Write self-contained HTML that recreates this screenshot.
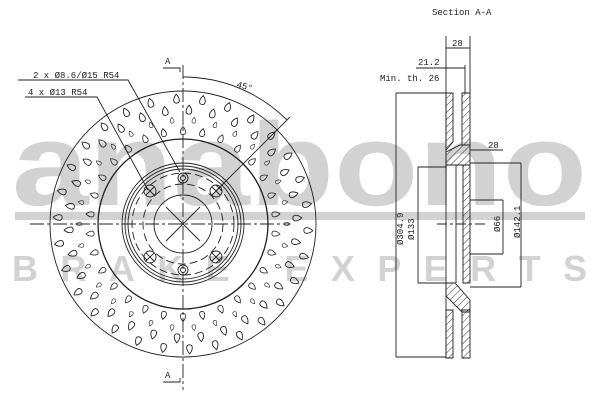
<!DOCTYPE html>
<html><head><meta charset="utf-8"><style>
html,body{margin:0;padding:0;background:#fff;}
svg{display:block;}
text{font-family:"Liberation Mono","DejaVu Sans Mono",monospace;fill:#222;}
.wm{fill:#d2d2d2;font-family:"Liberation Sans",sans-serif;font-weight:bold;}
</style></head><body>
<svg width="600" height="400" viewBox="0 0 600 400" xmlns="http://www.w3.org/2000/svg" xmlns:xlink="http://www.w3.org/1999/xlink">
<defs>
<pattern id="h" width="5" height="5" patternUnits="userSpaceOnUse" patternTransform="rotate(45)">
<line x1="0" y1="0" x2="0" y2="5" stroke="#222" stroke-width="0.9"/></pattern>
<path id="d" d="M0,-5 C3.5,-1 4,4 0,4 C-4,4 -3.5,-1 0,-5Z" fill="none" stroke="#222" stroke-width="0.9"/>
<g id="sp">
<use xlink:href="#d" transform="translate(183,131) scale(0.9)"/>
<use xlink:href="#d" transform="rotate(6 183 224) translate(183,120) scale(0.65)"/>
<use xlink:href="#d" transform="rotate(3 183 224) translate(183,110) scale(1)"/>
<use xlink:href="#d" transform="rotate(9 183 224) translate(183,99) scale(1)"/>
</g>
<g id="bx" fill="none" stroke="#222" stroke-width="0.9"><circle r="6"/><path d="M-4 -4L4 4M4 -4L-4 4"/></g>
</defs>
<text class="wm" x="12" y="205" font-size="118" textLength="575" lengthAdjust="spacingAndGlyphs">anabono</text>
<rect x="15" y="212" width="570" height="8" fill="#d2d2d2"/>
<text class="wm" x="12" y="281" font-size="36" textLength="575" lengthAdjust="spacing" style="font-weight:900">BRAKE EXPERTS</text>
<g>
<use xlink:href="#sp"/><use xlink:href="#sp" transform="rotate(12 183 224)"/><use xlink:href="#sp" transform="rotate(24 183 224)"/><use xlink:href="#sp" transform="rotate(36 183 224)"/><use xlink:href="#sp" transform="rotate(48 183 224)"/><use xlink:href="#sp" transform="rotate(60 183 224)"/><use xlink:href="#sp" transform="rotate(72 183 224)"/><use xlink:href="#sp" transform="rotate(84 183 224)"/><use xlink:href="#sp" transform="rotate(96 183 224)"/><use xlink:href="#sp" transform="rotate(108 183 224)"/><use xlink:href="#sp" transform="rotate(120 183 224)"/><use xlink:href="#sp" transform="rotate(132 183 224)"/><use xlink:href="#sp" transform="rotate(144 183 224)"/><use xlink:href="#sp" transform="rotate(156 183 224)"/><use xlink:href="#sp" transform="rotate(168 183 224)"/><use xlink:href="#sp" transform="rotate(180 183 224)"/><use xlink:href="#sp" transform="rotate(192 183 224)"/><use xlink:href="#sp" transform="rotate(204 183 224)"/><use xlink:href="#sp" transform="rotate(216 183 224)"/><use xlink:href="#sp" transform="rotate(228 183 224)"/><use xlink:href="#sp" transform="rotate(240 183 224)"/><use xlink:href="#sp" transform="rotate(252 183 224)"/><use xlink:href="#sp" transform="rotate(264 183 224)"/><use xlink:href="#sp" transform="rotate(276 183 224)"/><use xlink:href="#sp" transform="rotate(288 183 224)"/><use xlink:href="#sp" transform="rotate(300 183 224)"/><use xlink:href="#sp" transform="rotate(312 183 224)"/><use xlink:href="#sp" transform="rotate(324 183 224)"/><use xlink:href="#sp" transform="rotate(336 183 224)"/><use xlink:href="#sp" transform="rotate(348 183 224)"/>
</g>
<g fill="none" stroke="#222" stroke-width="0.9">
<circle cx="183" cy="224" r="133"/>
<circle cx="183" cy="224" r="85" stroke-width="1.3"/>
<circle cx="183" cy="224" r="61"/>
<circle cx="183" cy="224" r="58"/>
<circle cx="183" cy="224" r="55"/>
<circle cx="183" cy="224" r="51" stroke-dasharray="8,4"/>
<circle cx="183" cy="224" r="40" stroke-dasharray="8,4"/>
<circle cx="183" cy="224" r="29"/>
<line x1="183" y1="65" x2="183" y2="390" stroke-dasharray="14,3,3,3"/>
<line x1="30" y1="224" x2="290" y2="224" stroke-dasharray="14,3,3,3"/>
<line x1="166" y1="207" x2="200" y2="241"/><line x1="200" y1="207" x2="166" y2="241"/>
<circle cx="183" cy="178" r="5"/><circle cx="183" cy="178" r="2.5"/>
<circle cx="183" cy="270" r="5"/><circle cx="183" cy="270" r="2.5"/>
<polyline points="18,80 128,80 180,172"/>
<polyline points="25,97 97,97 148,190"/>
<path d="M183 77 A147 147 0 0 1 287 120"/>
<line x1="216" y1="191" x2="290" y2="117"/>
<polyline points="163,68 180,68 180,72"/>
<polyline points="163,382 180,382 180,378"/>
</g>
<use xlink:href="#bx" transform="translate(150,191)"/>
<use xlink:href="#bx" transform="translate(216,191)"/>
<use xlink:href="#bx" transform="translate(150,257)"/>
<use xlink:href="#bx" transform="translate(216,257)"/>
<g font-size="9">
<text x="33" y="78">2 x Ø8.6/Ø15 R54</text>
<text x="28" y="95">4 x Ø13 R54</text>
<text x="236" y="88" transform="rotate(15 240 88)">45°</text>
<text x="165" y="64">A</text>
<text x="165" y="378">A</text>
<text x="432" y="15">Section A-A</text>
<text x="452" y="46">28</text>
<text x="418" y="65">21.2</text>
<text x="380" y="81">Min. th. 26</text>
<text x="488" y="148">28</text>
<text transform="translate(403,245) rotate(-90)">Ø304.9</text>
<text transform="translate(414,240) rotate(-90)">Ø133</text>
<text transform="translate(500,232) rotate(-90)">Ø66</text>
<text transform="translate(520,238) rotate(-90)">Ø142.1</text>
</g>
<g fill="none" stroke="#222" stroke-width="0.9">
<path d="M446 93 H453 V142 L446 150 Z" fill="url(#h)"/>
<path d="M462 93 H470 V145 H462 Z" fill="url(#h)"/>
<path d="M446 152 L460 145 H470 V165 H446 Z" fill="url(#h)"/>
<path d="M463 165 H470 V283 H463 Z" fill="url(#h)"/>
<path d="M446 283 L455 283 L470 300 V312 L462 312 L446 296 Z" fill="url(#h)"/>
<path d="M446 310 H453 V358 H446 Z" fill="url(#h)"/>
<path d="M462 310 H470 V358 H462 Z" fill="url(#h)"/>
<line x1="446" y1="93" x2="446" y2="358"/>
<line x1="456" y1="165" x2="456" y2="283"/>
<line x1="446" y1="36" x2="446" y2="93"/><line x1="470" y1="36" x2="470" y2="93"/>
<line x1="446" y1="48" x2="470" y2="48"/>
<line x1="416" y1="68" x2="465" y2="68"/><line x1="465" y1="65" x2="465" y2="93"/>
<line x1="396" y1="93" x2="446" y2="93"/><line x1="396" y1="357" x2="446" y2="357"/>
<line x1="396" y1="93" x2="396" y2="357"/>
<line x1="418" y1="167" x2="446" y2="167"/><line x1="418" y1="283" x2="446" y2="283"/>
<line x1="418" y1="167" x2="418" y2="283"/>
<line x1="470" y1="150" x2="503" y2="150"/>
<line x1="470" y1="200" x2="503" y2="200"/><line x1="470" y1="254" x2="503" y2="254"/>
<line x1="503" y1="200" x2="503" y2="254"/>
<line x1="470" y1="163" x2="521" y2="163"/><line x1="470" y1="287" x2="521" y2="287"/>
<line x1="521" y1="163" x2="521" y2="287"/>
<line x1="437" y1="224" x2="485" y2="224" stroke-dasharray="10,3,3,3"/>
</g>
</svg>
</body></html>
